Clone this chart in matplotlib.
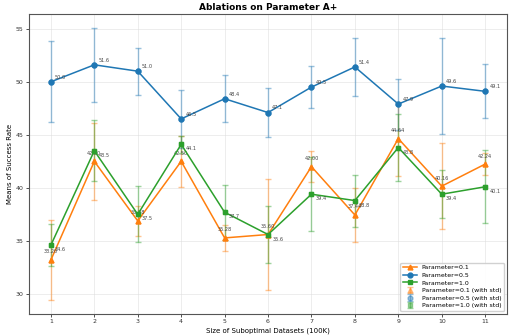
import matplotlib
matplotlib.use("Agg")
import matplotlib.pyplot as plt
import numpy as np

# data
sizes = [1, 2, 3, 4, 5, 6, 7, 8, 9, 10, 11]

mean_p01 = [33.20, 42.50, 36.88, 42.50, 35.28, 35.60, 42.00, 37.44, 44.64, 40.16, 42.24]
std_p01 = [3.8, 3.6, 1.4, 2.4, 1.25, 5.2, 1.45, 2.5, 3.5, 4.05, 1.05]

mean_p05 = [50.0, 51.6, 51.0, 46.5, 48.4, 47.1, 49.5, 51.4, 47.9, 49.6, 49.1]
std_p05 = [3.8, 3.5, 2.2, 2.7, 2.2, 2.3, 2.0, 2.7, 2.4, 4.5, 2.55]

mean_p10 = [34.6, 43.5, 37.5, 44.1, 37.7, 35.6, 39.4, 38.8, 43.8, 39.4, 40.1]
std_p10 = [2.0, 2.9, 2.65, 0.8, 2.6, 2.7, 3.5, 2.45, 3.2, 2.25, 3.45]

series = [
    ("Parameter=0.1", mean_p01, std_p01, "#ff7f0e", "^", "orange"),
    ("Parameter=0.5", mean_p05, std_p05, "#1f77b4", "o", "blue"),
    ("Parameter=1.0", mean_p10, std_p10, "#2ca02c", "s", "green"),
]

fig = plt.figure(figsize=(5.12, 3.35), dpi=100)
ax = fig.add_axes([0.057, 0.063, 0.933, 0.895])

line_handles = []
err_handles = []
for name, mean, std, color, marker, tag in series:
    h, = ax.plot(sizes, mean, marker=marker, color=color, linewidth=1.1,
                 markersize=3.5, label=name, zorder=3)
    line_handles.append(h)
    e = ax.errorbar(sizes, mean, yerr=std, fmt=marker, color=color, alpha=0.45,
                    capsize=2.5, elinewidth=1.0, markersize=3.5,
                    label=name + " (with std)", zorder=2)
    err_handles.append(e)

    for x, y in zip(sizes, mean):
        if tag == "orange":
            ax.annotate(f"{y:.2f}", (x, y), textcoords="offset points",
                        xytext=(0, 4), ha="center", va="bottom",
                        fontsize=3.6, color="#444444")
        elif tag == "blue":
            ax.annotate(f"{y:.1f}", (x, y), textcoords="offset points",
                        xytext=(3, 1.5), ha="left", va="bottom",
                        fontsize=3.6, color="#444444")
        else:
            ax.annotate(f"{y:.1f}", (x, y), textcoords="offset points",
                        xytext=(3, -1.5), ha="left", va="top",
                        fontsize=3.6, color="#444444")

ax.set_xticks(sizes)
ax.tick_params(labelsize=4.5, length=2, width=0.6, pad=2, colors="#333333")
ax.grid(True, color="#dddddd", alpha=0.6, linewidth=0.6)
ax.set_axisbelow(True)
for spine in ax.spines.values():
    spine.set_edgecolor("#555555")
    spine.set_linewidth(0.8)

ax.set_title("Ablations on Parameter A+", fontsize=6.5, fontweight="bold", pad=3)
ax.set_xlabel("Size of Suboptimal Datasets (100K)", fontsize=5, labelpad=2)
ax.set_ylabel("Means of Success Rate", fontsize=5, labelpad=2)

ax.legend(handles=line_handles + err_handles, loc="lower right", fontsize=4.5,
          handlelength=2.2, labelspacing=0.35, borderpad=0.4, framealpha=0.9)

fig.savefig("out.png", dpi=100)
